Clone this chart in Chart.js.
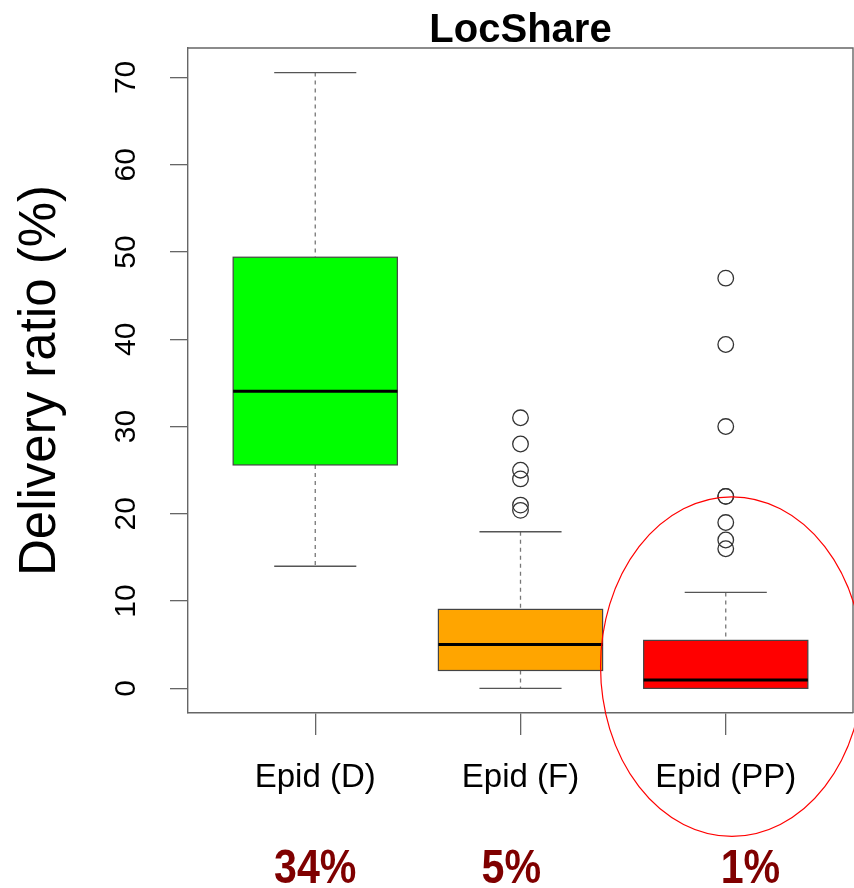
<!DOCTYPE html>
<html>
<head>
<meta charset="utf-8">
<script src="https://cdn.jsdelivr.net/npm/chart.js@4"></script>
<style>
  html, body { margin: 0; padding: 0; background: #ffffff; }
  #wrap { width: 854px; height: 888px; }
</style>
</head>
<body>
<div id="wrap"><canvas id="c" width="854" height="888"></canvas></div>
<script>
// ---- data ----
const categories   = ['Epid (D)', 'Epid (F)', 'Epid (PP)'];
const whiskerLow   = [14.0, 0.0, 0.0];
const quartile1    = [25.6, 2.05, 0.0];
const medians      = [34.05, 5.03, 0.95];
const quartile3    = [49.4, 9.05, 5.5];
const whiskerHigh  = [70.55, 17.95, 11.0];
const outliersD    = [];
const outliersF    = [31.0, 28.0, 25.0, 24.0, 21.0, 20.4];
const outliersPP   = [47.0, 39.4, 30.0, 22.0, 22.0, 19.0, 17.0, 16.0];
const boxColors    = ['#00ff00', '#ffa500', '#ff0000'];
const percentLabels = ['34%', '5%', '1%'];
const chartTitle   = 'LocShare';
const yTickStep    = 10;

const outlierPoints = [];
[outliersD, outliersF, outliersPP].forEach((arr, i) => {
  arr.forEach(v => outlierPoints.push({ x: i + 1, y: v }));
});

const boxPlugin = {
  id: 'boxes',
  beforeDatasetsDraw(chart) {
    const { ctx, scales: { x, y } } = chart;
    ctx.save();
    categories.forEach((c, i) => {
      const xc = i + 1;
      const px = x.getPixelForValue(xc);
      const bl = x.getPixelForValue(xc - 0.4), br = x.getPixelForValue(xc + 0.4);
      const cl = x.getPixelForValue(xc - 0.2), cr = x.getPixelForValue(xc + 0.2);
      const yLo = y.getPixelForValue(whiskerLow[i]);
      const yQ1 = y.getPixelForValue(quartile1[i]);
      const yMd = y.getPixelForValue(medians[i]);
      const yQ3 = y.getPixelForValue(quartile3[i]);
      const yHi = y.getPixelForValue(whiskerHigh[i]);
      // dashed whiskers
      ctx.strokeStyle = '#777777';
      ctx.lineWidth = 1.3;
      ctx.setLineDash([4, 4]);
      ctx.beginPath();
      ctx.moveTo(px, yHi); ctx.lineTo(px, yQ3);
      ctx.moveTo(px, yQ1); ctx.lineTo(px, yLo);
      ctx.stroke();
      ctx.setLineDash([]);
      // caps
      ctx.strokeStyle = '#555555';
      ctx.lineWidth = 1.4;
      ctx.beginPath();
      ctx.moveTo(cl, yHi); ctx.lineTo(cr, yHi);
      ctx.moveTo(cl, yLo); ctx.lineTo(cr, yLo);
      ctx.stroke();
      // box
      ctx.fillStyle = boxColors[i];
      ctx.fillRect(bl, yQ3, br - bl, yQ1 - yQ3);
      ctx.strokeStyle = '#444444';
      ctx.lineWidth = 1.2;
      ctx.strokeRect(bl, yQ3, br - bl, yQ1 - yQ3);
      // median
      ctx.strokeStyle = '#000000';
      ctx.lineWidth = 3;
      ctx.beginPath();
      ctx.moveTo(bl, yMd); ctx.lineTo(br, yMd);
      ctx.stroke();
    });
    ctx.restore();
  },
  afterDraw(chart) {
    const { ctx, chartArea: a, scales: { x, y } } = chart;
    ctx.save();
    // frame (top and right sides)
    ctx.strokeStyle = '#666666';
    ctx.lineWidth = 1.4;
    ctx.beginPath();
    ctx.moveTo(a.left, a.top); ctx.lineTo(a.right, a.top); ctx.lineTo(a.right, a.bottom);
    ctx.stroke();
    // title centred over the plot region
    ctx.fillStyle = '#000000';
    ctx.font = 'bold 40px "Liberation Sans", Arial, sans-serif';
    ctx.textAlign = 'center';
    ctx.textBaseline = 'alphabetic';
    ctx.fillText(chartTitle, (a.left + a.right) / 2, 42);
    // red highlight ellipse around the third group
    const ecx = x.getPixelForValue(3.03), ecy = y.getPixelForValue(2.5);
    const erx = x.getPixelForValue(3.03 + 0.64) - ecx;
    const ery = ecy - y.getPixelForValue(2.5 + 19.45);
    ctx.strokeStyle = '#ff0000';
    ctx.lineWidth = 1.2;
    ctx.beginPath();
    ctx.ellipse(ecx, ecy, erx, ery, 0, 0, Math.PI * 2);
    ctx.stroke();
    // percentage annotations under the category labels
    const labelAnchors = [1.0, 1.955, 3.12];
    ctx.fillStyle = '#7f0000';
    ctx.font = 'bold 49px "Liberation Sans", Arial, sans-serif';
    percentLabels.forEach((t, i) => {
      const px = x.getPixelForValue(labelAnchors[i]);
      ctx.save();
      ctx.translate(px, 883);
      ctx.scale(0.84, 1);
      ctx.fillText(t, 0, 0);
      ctx.restore();
    });
    ctx.restore();
  }
};

new Chart(document.getElementById('c'), {
  type: 'scatter',
  data: {
    datasets: [{
      label: 'outliers',
      data: outlierPoints,
      pointStyle: 'circle',
      pointRadius: 7.8,
      pointHoverRadius: 7.8,
      borderColor: '#333333',
      borderWidth: 1.3,
      backgroundColor: 'rgba(0,0,0,0)'
    }]
  },
  options: {
    responsive: false,
    animation: false,
    events: [],
    layout: { autoPadding: false, padding: { left: 0, right: 1, top: 48, bottom: 0 } },
    plugins: {
      legend: { display: false },
      tooltip: { enabled: false },
      title: { display: false }
    },
    scales: {
      x: {
        type: 'linear',
        min: 0.38,
        max: 3.62,
        afterBuildTicks(scale) { scale.ticks = categories.map((c, i) => ({ value: i + 1 })); },
        afterFit(scale) {
          scale.height = 175;
          scale.paddingLeft = 0; scale.paddingRight = 0;
          scale.paddingTop = 0; scale.paddingBottom = 0;
        },
        grid: { drawOnChartArea: false, drawTicks: true, tickLength: 22, color: '#666666', lineWidth: 1.3 },
        border: { display: true, color: '#666666', width: 1.4 },
        ticks: {
          autoSkip: false,
          maxRotation: 0,
          padding: 23,
          color: '#000000',
          font: { family: '"Liberation Sans", Arial, sans-serif', size: 33 },
          callback: (v) => categories[Math.round(v) - 1]
        }
      },
      y: {
        type: 'linear',
        min: -2.82,
        max: 73.37,
        afterFit(scale) {
          scale.width = 188;
          scale.paddingLeft = 0; scale.paddingRight = 0;
          scale.paddingTop = 0; scale.paddingBottom = 0;
        },
        grid: { drawOnChartArea: false, drawTicks: true, tickLength: 18, color: '#666666', lineWidth: 1.3 },
        border: { display: true, color: '#666666', width: 1.4 },
        title: {
          display: true,
          text: 'Delivery ratio (%)',
          color: '#000000',
          font: { family: '"Liberation Sans", Arial, sans-serif', size: 51, lineHeight: 1.2 },
          padding: { top: 10, bottom: 0 }
        },
        ticks: {
          stepSize: yTickStep,
          includeBounds: false,
          minRotation: 90,
          maxRotation: 90,
          crossAlign: 'center',
          padding: 27,
          color: '#000000',
          font: { family: '"Liberation Sans", Arial, sans-serif', size: 30 }
        }
      }
    }
  },
  plugins: [boxPlugin]
});
</script>
</body>
</html>
